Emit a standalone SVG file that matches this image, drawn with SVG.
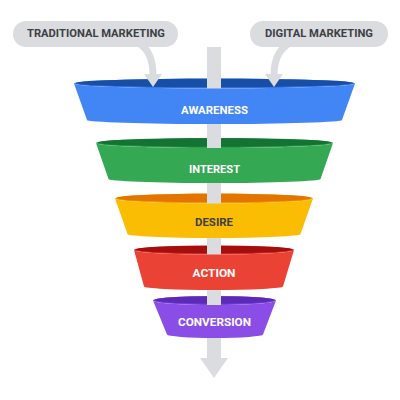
<svg xmlns="http://www.w3.org/2000/svg" width="400" height="400" viewBox="0 0 400 400">
<style>
.pill{fill:#dadce0}
.ptxt{font-family:Roboto,"Liberation Sans",sans-serif;font-weight:700;font-size:10.5px;fill:#3c4043;text-anchor:middle}
.ftxt{font-family:Roboto,"Liberation Sans",sans-serif;font-weight:700;font-size:11px;fill:#ffffff;text-anchor:middle}
.gray{fill:#dadce0}
.garrow{fill:none;stroke:#dadce0;stroke-width:7}
</style>
<rect width="400" height="400" fill="#ffffff"/>
<!-- top inner ellipses (back) -->
<g id="rims">
<ellipse cx="214.5" cy="83.5" rx="140.5" ry="5" fill="#3b78e7"/>
<ellipse cx="214.5" cy="83" rx="139" ry="4.3" fill="#174ea6"/>
<ellipse cx="214.5" cy="143" rx="118.5" ry="5" fill="#2e9e4c"/>
<ellipse cx="214.5" cy="142.5" rx="117" ry="4.3" fill="#137333"/>
<ellipse cx="214" cy="198.5" rx="99" ry="5" fill="#f4a300"/>
<ellipse cx="214" cy="198" rx="97.5" ry="4.3" fill="#e37400"/>
<ellipse cx="214" cy="250" rx="80" ry="4.5" fill="#d93025"/>
<ellipse cx="214" cy="249.5" rx="78.5" ry="3.8" fill="#a50e0e"/>
<ellipse cx="214.5" cy="300.5" rx="61.5" ry="4.5" fill="#7b46e0"/>
<ellipse cx="214.5" cy="300" rx="60" ry="3.8" fill="#5b2bb8"/>
</g>
<g id="connectors">
<rect class="gray" x="207" y="47" width="14" height="312"/>
<polygon class="gray" points="200,358 228,358 214,378"/>
<path class="garrow" d="M140,44 C149,50 153,60 153,75"/>
<polygon class="gray" points="144,74 162,74 153,87"/>
<path class="garrow" d="M288,44 C279,50 274,60 274,75"/>
<polygon class="gray" points="265,74 283,74 274,87"/>
</g>
<g id="traditional">
<rect class="pill" x="13" y="21" width="165" height="26" rx="13"/>
<text class="ptxt" x="96" y="37" textLength="138" lengthAdjust="spacingAndGlyphs">TRADITIONAL MARKETING</text>
</g>
<g id="digital">
<rect class="pill" x="250" y="21" width="138" height="26" rx="13"/>
<text class="ptxt" x="319" y="37" textLength="108" lengthAdjust="spacingAndGlyphs">DIGITAL MARKETING</text>
</g>
<g id="awareness">
<path d="M74,83.5 A140.5,5 0 0 0 355,83.5 L342,120 A127.5,4 0 0 1 87,120 Z" fill="#4285f4"/>
<text class="ftxt" x="214.5" y="113.5" textLength="67" lengthAdjust="spacingAndGlyphs">AWARENESS</text>
</g>
<g id="interest">
<path d="M96,143 A118.5,5 0 0 0 333,143 L320.5,179 A106,4 0 0 1 108.5,179 Z" fill="#34a853"/>
<text class="ftxt" x="214.5" y="172.5" textLength="51" lengthAdjust="spacingAndGlyphs">INTEREST</text>
</g>
<g id="desire">
<path d="M115,198.5 A99,5 0 0 0 313,198.5 L300.5,234 A86.5,4 0 0 1 127.5,234 Z" fill="#fbbc04"/>
<text class="ftxt" x="214" y="225.5" textLength="38" lengthAdjust="spacingAndGlyphs" style="fill:#3c4043">DESIRE</text>
</g>
<g id="action">
<path d="M134,250 A80,4.5 0 0 0 294,250 L283,286.5 A69.5,3.5 0 0 1 144,286.5 Z" fill="#ea4335"/>
<text class="ftxt" x="214" y="276.5" textLength="43" lengthAdjust="spacingAndGlyphs">ACTION</text>
</g>
<g id="conversion">
<path d="M153,300.5 A61.5,4.5 0 0 0 276,300.5 L263,334.5 A48,3.5 0 0 1 167,334.5 Z" fill="#8a4ee6"/>
<text class="ftxt" x="214.5" y="326" textLength="73" lengthAdjust="spacingAndGlyphs">CONVERSION</text>
</g>
</svg>
